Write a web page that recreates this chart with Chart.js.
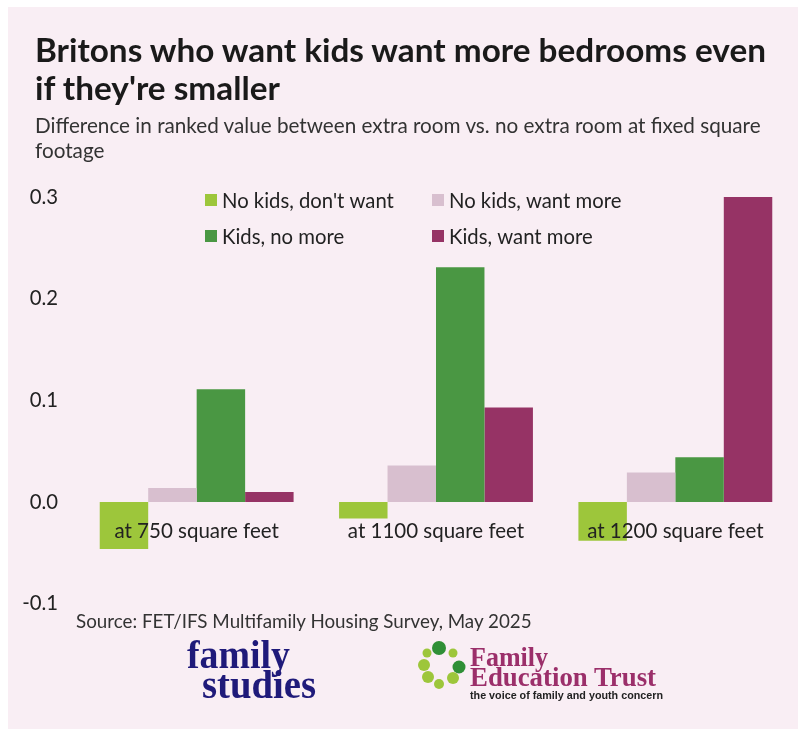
<!DOCTYPE html>
<html>
<head>
<meta charset="utf-8">
<script src="https://cdn.jsdelivr.net/npm/chart.js@4/dist/chart.umd.min.js"></script>
<style>
  html, body { margin: 0; padding: 0; background: #ffffff; }
  body { width: 798px; height: 729px; position: relative; overflow: hidden; }
  #panel { position: absolute; left: 8px; top: 7px; width: 790px; height: 722px; background: #f9eef4; }
  #chartBox { position: absolute; left: 0; top: 150px; width: 798px; height: 485px; }
  #overlay { position: absolute; left: 0; top: 0; width: 798px; height: 729px; pointer-events: none; }
  .title { font-family: Lato, sans-serif; font-weight: 700; font-size: 33.3px; fill: #1a1a1a; }
  .subtitle { font-family: Lato, sans-serif; font-weight: 400; font-size: 20.7px; fill: #333333; }
  .source { font-family: Lato, sans-serif; font-weight: 400; font-size: 18.8px; fill: #333333; }
  .fs { font-family: "Liberation Serif", serif; font-weight: 700; font-size: 40px; fill: #1f1a7a; }
  .fet { font-family: "Liberation Serif", serif; font-weight: 700; font-size: 27px; fill: #9b2f6a; }
  .tag { font-family: "Liberation Sans", sans-serif; font-weight: 700; font-size: 11px; fill: #222222; }
</style>
</head>
<body>
<div id="panel"></div>
<div id="chartBox"><canvas id="chart" width="798" height="485"></canvas></div>
<svg id="overlay" width="798" height="729" xmlns="http://www.w3.org/2000/svg">
  <text class="title" x="35" y="62">Britons who want kids want more bedrooms even</text>
  <text class="title" x="35" y="100">if they're smaller</text>
  <text class="subtitle" x="35" y="133">Difference in ranked value between extra room vs. no extra room at fixed square</text>
  <text class="subtitle" x="35" y="158">footage</text>
  <text class="source" x="76" y="628">Source: FET/IFS Multifamily Housing Survey, May 2025</text>

  <!-- family studies wordmark -->
  <text class="fs" x="187" y="668" textLength="103" lengthAdjust="spacingAndGlyphs">family</text>
  <text class="fs" x="202" y="698" textLength="114" lengthAdjust="spacingAndGlyphs">studies</text>

  <!-- Family Education Trust mark -->
  <g>
    <circle cx="439" cy="648" r="7" fill="#2f8f36"/>
    <circle cx="427" cy="653" r="4.5" fill="#9dc63b"/>
    <circle cx="453" cy="653" r="4.5" fill="#9dc63b"/>
    <circle cx="424" cy="665" r="6" fill="#9dc63b"/>
    <circle cx="459" cy="667" r="6.5" fill="#2f8f36"/>
    <circle cx="428" cy="677" r="6" fill="#9dc63b"/>
    <circle cx="453" cy="678" r="6" fill="#9dc63b"/>
    <circle cx="439" cy="684" r="5" fill="#9dc63b"/>
  </g>
  <text class="fet" x="470" y="666" textLength="78" lengthAdjust="spacingAndGlyphs">Family</text>
  <text class="fet" x="470" y="686" textLength="186" lengthAdjust="spacingAndGlyphs">Education Trust</text>
  <text class="tag" x="470" y="699" textLength="193" lengthAdjust="spacingAndGlyphs">the voice of family and youth concern</text>
</svg>
<script>
// Categories and series values
const categories = ['at 750 square feet', 'at 1100 square feet', 'at 1200 square feet'];
const seriesNames = ["No kids, don't want", 'No kids, want more', 'Kids, no more', 'Kids, want more'];
const noKidsDontWant = [-0.046, -0.016, -0.038];
const noKidsWantMore = [0.014, 0.036, 0.029];
const kidsNoMore = [0.111, 0.231, 0.044];
const kidsWantMore = [0.010, 0.093, 0.300];
const yTickValues = [-0.1, 0.0, 0.1, 0.2, 0.3];

const seriesColors = ['#9dc63b', '#d8bfcf', '#4a9743', '#963365'];
const seriesValues = [noKidsDontWant, noKidsWantMore, kidsNoMore, kidsWantMore];

const datasets = seriesNames.map((name, i) => ({
  label: name,
  data: seriesValues[i],
  backgroundColor: seriesColors[i],
  borderWidth: 0,
  barPercentage: 1.0,
  categoryPercentage: 0.81
}));

// Two-column legend drawn inside the plot area
const gridLegend = {
  id: 'gridLegend',
  afterDraw(chart) {
    const ctx = chart.ctx;
    const colX = [205, 432];
    const rowY = [200 - 150, 236 - 150];
    ctx.save();
    ctx.font = '20.3px Lato, sans-serif';
    ctx.textBaseline = 'middle';
    ctx.textAlign = 'left';
    chart.data.datasets.forEach((ds, i) => {
      const x = colX[i % 2];
      const y = rowY[Math.floor(i / 2)];
      ctx.fillStyle = ds.backgroundColor;
      ctx.fillRect(x, y - 6, 12, 12);
      ctx.fillStyle = '#222222';
      ctx.fillText(ds.label, x + 17, y + 1);
    });
    ctx.restore();
  }
};

new Chart(document.getElementById('chart'), {
  type: 'bar',
  data: { labels: categories, datasets },
  options: {
    responsive: false,
    devicePixelRatio: 1,
    animation: false,
    layout: { padding: { top: 47, bottom: 20, left: 0, right: 3 } },
    plugins: {
      legend: { display: false },
      tooltip: { enabled: false }
    },
    scales: {
      x: {
        position: { y: 0 },
        grid: { display: false, drawTicks: false },
        border: { display: false },
        ticks: {
          z: 1,
          color: '#222222',
          font: { family: 'Lato, sans-serif', size: 20.5 },
          padding: 17,
          maxRotation: 0,
          autoSkip: false
        }
      },
      y: {
        min: yTickValues[0],
        max: yTickValues[yTickValues.length - 1],
        afterBuildTicks(scale) { scale.ticks = yTickValues.map(v => ({ value: v })); },
        afterFit(scale) { scale.width = 77; },
        grid: { display: false, drawTicks: false },
        border: { display: false },
        ticks: {
          color: '#222222',
          font: { family: 'Lato, sans-serif', size: 20.3 },
          padding: 19,
          callback: v => Number(v).toFixed(1)
        }
      }
    }
  },
  plugins: [gridLegend]
});
</script>
</body>
</html>
